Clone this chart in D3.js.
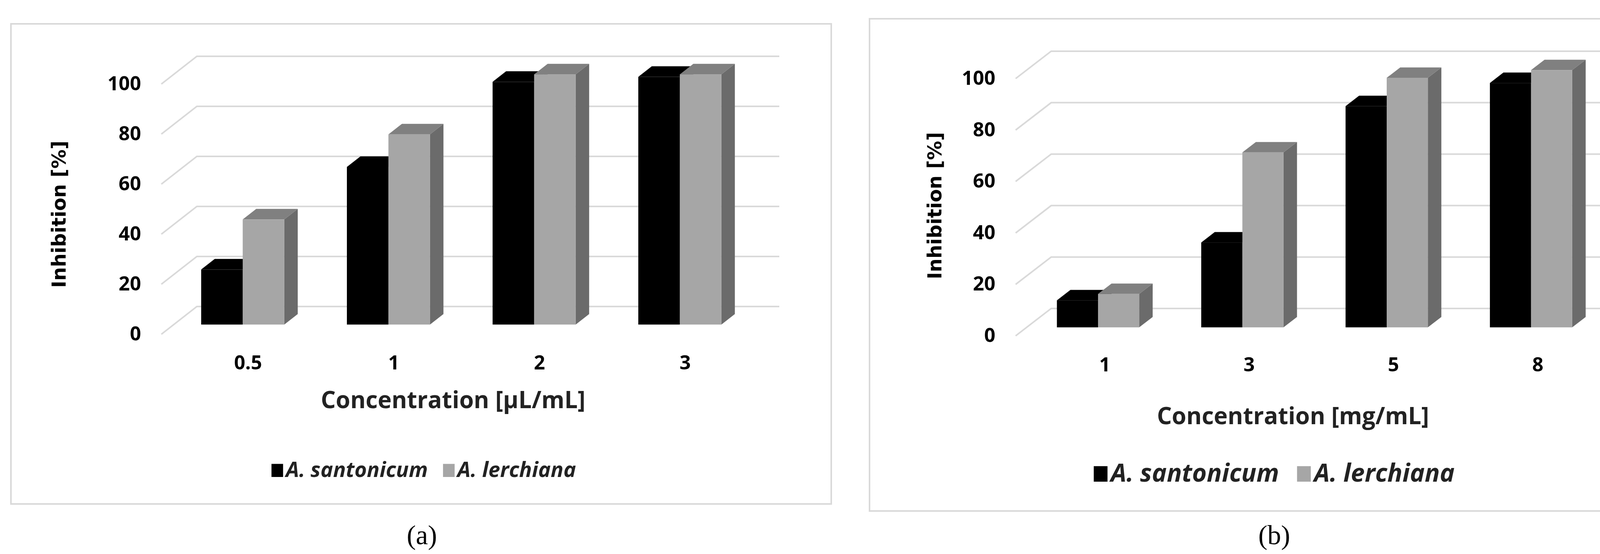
<!DOCTYPE html>
<html><head><meta charset="utf-8">
<script src="https://cdn.jsdelivr.net/npm/d3@7"></script>
<style>body{margin:0;background:#fff}</style>
</head><body>
<svg id="chart" width="4338" height="1417"></svg>
<script>
// data
var seriesNames = ["A. santonicum", "A. lerchiana"];
var catsA = ["0.5", "1", "2", "3"];
var santonicumA = [22, 63, 97, 99];
var lerchianaA = [42, 76, 100, 100];
var catsB = ["1", "3", "5", "8"];
var santonicumB = [10.5, 33, 86, 95];
var lerchianaB = [13, 68, 97, 100];
var yTicks = [0, 20, 40, 60, 80, 100];

var svg = d3.select("#chart");
var narrow = "'Liberation Sans Narrow', 'Open Sans', sans-serif";

function panel(o) {
  var g = svg.append("g");
  g.append("rect").attr("x", o.box[0]).attr("y", o.box[1])
    .attr("width", o.box[2]).attr("height", o.box[3])
    .attr("fill", "#fff").attr("stroke", "#d9d9d9").attr("stroke-width", 4);

  var y = d3.scaleLinear().domain([0, 100]).range([o.y0, o.y100]);
  var x = d3.scaleBand().domain(o.cats).range(o.xr).paddingInner(o.pad).paddingOuter(o.pad / 2);
  var dx = o.dx, dy = o.dy;

  // gridlines: wall diagonal + back line
  yTicks.forEach(function(t) {
    g.append("polyline")
      .attr("points", [[o.left, y(t)], [o.left + dx, y(t) + dy], [o.right, y(t) + dy]].join(" "))
      .attr("fill", "none").attr("stroke", "#d9d9d9").attr("stroke-width", 4);
    g.append("text").attr("x", o.left - 52).attr("y", y(t) + 16)
      .attr("text-anchor", "end").attr("font-family", narrow).attr("font-weight", "bold")
      .attr("font-size", o.fs).text(t);
  });

  var f0 = o.f0, f1 = o.f0 + 0.38;
  var bw = x.bandwidth() / 2;
  o.cats.forEach(function(c, i) {
    [o.s1[i], o.s2[i]].forEach(function(v, k) {
      var xl = x(c) + k * bw + dx * f0, xr = xl + bw;
      var yb = y(0) + dy * f0, yt = y(v) + dy * f0;
      var ox = dx * (f1 - f0), oy = dy * (f1 - f0);
      var cols = k === 0 ? ["#000", "#000", "#000"] : ["#a6a6a6", "#808080", "#6b6b6b"];
      // side
      g.append("polygon").attr("points", [[xr, yb], [xr + ox, yb + oy], [xr + ox, yt + oy], [xr, yt]].join(" ")).attr("fill", cols[2]);
      // top
      g.append("polygon").attr("points", [[xl, yt], [xl + ox, yt + oy], [xr + ox, yt + oy], [xr, yt]].join(" ")).attr("fill", cols[1]);
      // front
      g.append("rect").attr("x", xl).attr("y", yt).attr("width", bw).attr("height", yb - yt).attr("fill", cols[0]);
    });
    g.append("text").attr("x", x(c) + x.bandwidth() / 2 + dx * 0.5).attr("y", o.xlabY)
      .attr("text-anchor", "middle").attr("font-family", narrow).attr("font-weight", "bold")
      .attr("font-size", o.fs).text(c);
  });

  g.append("text").attr("x", o.xt[0]).attr("y", o.xt[1]).attr("text-anchor", "middle")
    .attr("font-family", narrow).attr("font-weight", "bold").attr("font-size", o.fs * 1.2)
    .attr("fill", "#222").text(o.xTitle);
  g.append("text").attr("transform", "translate(" + o.yt[0] + "," + o.yt[1] + ") rotate(-90)")
    .attr("text-anchor", "middle").attr("font-family", "'DejaVu Sans', sans-serif")
    .attr("font-weight", "bold").attr("font-size", o.fs * 0.98).text("Inhibition [%]");

  // legend
  var lx = o.leg[0], ly = o.leg[1], ls = o.legFs;
  seriesNames.forEach(function(n, k) {
    g.append("rect").attr("x", lx).attr("y", ly - ls * 0.62).attr("width", ls * 0.55).attr("height", ls * 0.62)
      .attr("fill", k === 0 ? "#000" : "#a6a6a6");
    var t = g.append("text").attr("x", lx + ls * 0.68).attr("y", ly).attr("font-family", narrow)
      .attr("font-weight", "bold").attr("font-style", "italic").attr("font-size", ls).attr("fill", "#222").text(n);
    lx += t.node().getComputedTextLength() + ls * 1.4;
  });

  g.append("text").attr("x", o.cap[0]).attr("y", o.cap[1]).attr("text-anchor", "middle")
    .attr("font-family", "'Liberation Serif', serif").attr("font-size", 70).text(o.capText);
}

panel({
  box: [28, 61, 2100, 1228], cats: catsA, s1: santonicumA, s2: lerchianaA,
  y0: 855, y100: 215, dx: 91, dy: -71, left: 413, right: 1995,
  xr: [403, 1895], pad: 0.43, f0: 0.35, fs: 50, xlabY: 945,
  xTitle: "Concentration [µL/mL]", xt: [1160, 1044], yt: [168, 548],
  leg: [695, 1220], legFs: 54, cap: [1080, 1392], capText: "(a)"
});
panel({
  box: [2226, 48, 2090, 1259], cats: catsB, s1: santonicumB, s2: lerchianaB,
  y0: 859, y100: 201, dx: 91, dy: -70, left: 2600, right: 4166,
  xr: [2598, 4076], pad: 0.43, f0: 0.31, fs: 50, xlabY: 950,
  xTitle: "Concentration [mg/mL]", xt: [3310, 1085], yt: [2410, 526],
  leg: [2800, 1232], legFs: 64, cap: [3262, 1392], capText: "(b)"
});
</script>
</body></html>
